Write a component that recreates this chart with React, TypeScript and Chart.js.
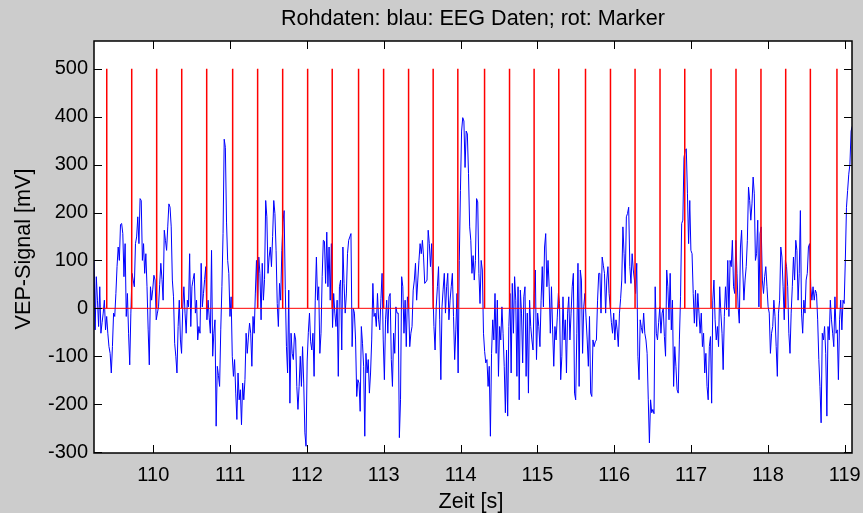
import React, { useEffect, useRef } from "react";
import { Chart, registerables } from "chart.js";

Chart.register(...registerables);

const TITLE = "Rohdaten: blau: EEG Daten; rot: Marker";
const X_LABEL = "Zeit [s]";
const Y_LABEL = "VEP-Signal [mV]";

const X_MIN = 109.228;
const X_MAX = 119.095;
const Y_MIN = -302;
const Y_MAX = 558;

const X_TICKS = [110, 111, 112, 113, 114, 115, 116, 117, 118, 119];
const Y_TICKS = [-300, -200, -100, 0, 100, 200, 300, 400, 500];

const MARKER_TIMES = [
  109.394, 109.719, 110.044, 110.37, 110.695, 111.033, 111.358, 111.684, 112.009, 112.329,
  112.672, 112.998, 113.323, 113.643, 113.964, 114.312, 114.637, 114.957, 115.278, 115.626,
  115.951, 116.271, 116.596, 116.918, 117.26, 117.585, 117.91, 118.232, 118.553, 118.899,
];
const MARKER_HEIGHT = 500;

// EEG samples, equally spaced in time starting at EEG_T0
const EEG_T0 = 109.228;
const EEG_DT = 0.015;
const EEG_VALUES = [
  // 109.23 – 111.70 s
  100, -45, 66, 17, -38, 45, -52, -30, -10, 17,
  -45, -17, -52, -80, -94, -135, -80, -10, -17, 31,
  87, 128, 100, 175, 177, 156, 66, 135, -17, 31,
  -52, -118, -10, 73, 59, 45, 135, 149, 191, 135,
  229, 225, 100, 135, 73, 114, 45, -45, -118, 45,
  17, 40, 69, 59, -24, -10, 3, 50, 94, 60,
  17, 163, 142, 121, 170, 218, 211, 170, 59, 24,
  -73, -100, -135, -38, 17, -66, -94, 0, 45, -10,
  -52, 17, 3, 114, -38, 45, 60, 73, -10, 17,
  -66, -38, -52, 94, 3, 31, 60, 87, -24, 17,
  -20, -52, 121, -100, -52, -24, -246, -121, -140, -163,
  -45, 45, 156, 353, 336, 180, 100, 73, -17, 24,
  -100, -142, -107, -177, -232, -135, -191, -170, -243, -156,
  -191, -149, -52, -94, -60, -31, -52, -121, -17, -52,
  30, 100, 3, 107, 73, -24, 94, 17, 60, 225,
  191, 73, 107, 128, 87, 150, 225, 198, 121, 10,
  -38, 52, 17, 121, 180,
  // 111.70 – 114.17 s
  204, 40, -80, -135, 38, -198, -52, -94, -107, -52,
  -66, -163, -211, -163, -100, -163, -80, -156, -260, -288,
  -110, -50, -10, -70, -87, -52, -142, 17, 107, 17,
  45, -94, -52, 66, 142, 140, 52, 159, 45, 128,
  17, 135, -40, 31, -10, -38, 17, -142, 45, 59,
  -87, 128, 52, -10, 30, 114, 142, 149, 156, -80,
  0, -10, -66, -184, -149, -156, -215, -38, -73, -121,
  -267, -94, -135, -107, -177, -135, -66, 52, -17, -10,
  -38, 31, -24, -45, 20, 73, -66, -149, -24, 17,
  -52, 24, 31, -107, -163, -52, -94, 3, -10, -10,
  -270, -191, 66, 45, -52, 17, -80, 24, 10, -80,
  -52, -38, 38, 59, 94, 17, 59, 100, 135, 114,
  142, 107, 52, 55, 59, 163, 135, 87, 135, 45,
  -38, -87, 3, 45, 87, -24, -149, 3, 40, 73,
  -10, 45, 73, -24, 17, 45, 73, -17, -107, -45,
  31, -135, 100, 246, 370, 398, 391, 294, 370, 364,
  281, 170, 142, 73, 110,
  // 114.18 – 116.64 s
  59, 100, 229, 222, 73, 10, 100, 80, -52, -90,
  -114, -107, -163, -121, -267, -94, -24, -66, 31, -94,
  17, -142, -38, -66, 3, -52, -121, -218, -87, -225,
  -38, 31, -135, 52, -52, 66, 17, -142, 45, -191,
  38, -10, -114, 24, 45, -142, -10, -177, 17, -38,
  -66, -87, 31, 80, -107, -10, -38, -80, 17, 87,
  3, 128, 156, 45, 100, 45, -52, 45, -45, -121,
  -38, -66, -20, 31, 10, -149, -100, 24, -66, -24,
  -135, -10, 24, -66, -10, 45, 73, -177, -191, -52,
  94, -163, 80, 59, -94, 3, 31, -20, -66, -121,
  -17, -177, -184, -66, -80, -70, -66, 17, 73, 73,
  -10, 107, 90, 73, -10, 59, 87, 31, 3, -30,
  -52, -10, -66, -24, -45, -80, -10, 20, 59, 170,
  114, 52, 191, 198, 211, 87, 52, 114, 80, 59,
  31, 94, -100, -149, -24, -40, -52, -10, -52, -66,
  -94, -191, -281, -191, -218, -211, -220, 45, -52, -66,
  -30, 3, -52, -10, 0,
  // 116.65 – 119.10 s
  -59, -100, 80, 45, -24, 73, -45, 17, -163, -80,
  -121, -170, -177, -66, 24, 177, 184, 315, 329, 333,
  239, 135, 225, 121, 114, 31, -31, 38, -38, 31,
  -10, -52, -10, -80, -52, -135, -94, -163, -191, -80,
  -59, -198, 17, 59, -24, -66, -38, -80, 45, -10,
  -52, -128, -17, 45, -3, 100, -17, 100, 87, 142,
  45, 31, 142, 73, 3, -31, 128, 163, 80, 17,
  59, 87, 142, 253, 225, 184, 218, 274, 239, 100,
  114, 184, 3, 156, 170, 59, 31, 66, 87, 45,
  3, -10, -94, -52, -38, 17, -17, -80, -142, -10,
  17, 128, 107, 45, -24, 100, 87, 45, -52, -94,
  -10, 45, 107, 59, 142, 121, 17, 73, 204, -10,
  -52, 17, -10, 59, 73, 128, 135, 45, 17, 45,
  17, 38, 31, -24, -107, -163, -239, -52, -66, -38,
  -94, -225, -38, -66, 17, -24, -52, -80, 24, -52,
  -45, -149, -24, 17, -45, 17, 10, 100, 211, 246,
  280, 301, 370, 380,
];

const FONT_FAMILY = '"Liberation Sans", Arial, Helvetica, sans-serif';

const framePlugin = {
  id: "matlabFrame",
  beforeDraw(chart: any) {
    const { ctx, chartArea: a, width, height } = chart;
    ctx.save();
    ctx.fillStyle = "#cccccc";
    ctx.fillRect(0, 0, width, height);
    ctx.fillStyle = "#ffffff";
    ctx.fillRect(a.left, a.top, a.right - a.left, a.bottom - a.top);
    ctx.restore();
  },
  afterDraw(chart: any) {
    const { ctx, chartArea: a, scales } = chart;
    const L = 8;
    ctx.save();
    ctx.strokeStyle = "#000000";
    ctx.lineWidth = 1;
    ctx.beginPath();
    for (const v of X_TICKS) {
      const x = Math.round(scales.x.getPixelForValue(v)) + 0.5;
      ctx.moveTo(x, a.bottom);
      ctx.lineTo(x, a.bottom - L);
      ctx.moveTo(x, a.top);
      ctx.lineTo(x, a.top + L);
    }
    for (const v of Y_TICKS) {
      const y = Math.round(scales.y.getPixelForValue(v)) + 0.5;
      ctx.moveTo(a.left, y);
      ctx.lineTo(a.left + L, y);
      ctx.moveTo(a.right, y);
      ctx.lineTo(a.right - L, y);
    }
    ctx.stroke();
    ctx.lineWidth = 1.5;
    ctx.strokeRect(a.left, a.top, a.right - a.left, a.bottom - a.top);

    ctx.fillStyle = "#000000";
    ctx.font = "21.6px " + FONT_FAMILY;
    ctx.textAlign = "center";
    ctx.textBaseline = "alphabetic";
    const cx = (a.left + a.right) / 2;
    ctx.fillText(TITLE, cx, 25);
    ctx.fillText(X_LABEL, cx - 2, 508);
    ctx.translate(30, 249);
    ctx.rotate(-Math.PI / 2);
    ctx.fillText(Y_LABEL, 0, 0);
    ctx.restore();
  },
};

export default function App() {
  const canvasRef = useRef<HTMLCanvasElement | null>(null);

  useEffect(() => {
    const canvas = canvasRef.current;
    if (!canvas) return;

    const eegData = EEG_VALUES.map((v, i) => ({ x: EEG_T0 + i * EEG_DT, y: v }));
    const markerData: any[] = [];
    for (const t of MARKER_TIMES) {
      markerData.push({ x: t, y: 0 });
      markerData.push({ x: t, y: MARKER_HEIGHT });
      markerData.push({ x: t, y: null });
    }
    const zeroLine = [
      { x: X_MIN, y: 0 },
      { x: X_MAX, y: 0 },
    ];

    const chart = new Chart(canvas, {
      type: "line",
      data: {
        datasets: [
          {
            label: "Marker",
            data: markerData,
            borderColor: "#ff0000",
            borderWidth: 1.5,
            pointRadius: 0,
            spanGaps: false,
            tension: 0,
          },
          {
            label: "Null",
            data: zeroLine,
            borderColor: "#ff0000",
            borderWidth: 1,
            pointRadius: 0,
            tension: 0,
          },
          {
            label: "EEG",
            data: eegData,
            borderColor: "#0000ff",
            borderWidth: 1,
            pointRadius: 0,
            tension: 0,
          },
        ],
      },
      options: {
        animation: false,
        responsive: false,
        devicePixelRatio: 1,
        layout: { padding: { top: 41, right: 11, left: 0, bottom: 0 } },
        plugins: {
          legend: { display: false },
          title: { display: false },
          tooltip: { enabled: false },
        },
        scales: {
          x: {
            type: "linear",
            position: "bottom",
            min: X_MIN,
            max: X_MAX,
            afterBuildTicks: (s: any) => {
              s.ticks = X_TICKS.map((value) => ({ value }));
            },
            afterFit: (s: any) => {
              s.height = 60;
              s.paddingLeft = 0;
              s.paddingRight = 0;
            },
            grid: { display: false, drawTicks: false },
            border: { display: false },
            ticks: {
              color: "#000000",
              font: { family: FONT_FAMILY, size: 20 },
              padding: 10,
              maxRotation: 0,
              autoSkip: false,
              callback: (v: any) => String(v),
            },
          },
          y: {
            type: "linear",
            min: Y_MIN,
            max: Y_MAX,
            afterBuildTicks: (s: any) => {
              s.ticks = Y_TICKS.map((value) => ({ value }));
            },
            afterFit: (s: any) => {
              s.width = 94;
              s.paddingTop = 0;
              s.paddingBottom = 0;
            },
            grid: { display: false, drawTicks: false },
            border: { display: false },
            ticks: {
              color: "#000000",
              font: { family: FONT_FAMILY, size: 20 },
              padding: 6,
              autoSkip: false,
              callback: (v: any) => String(v),
            },
          },
        },
      },
      plugins: [framePlugin],
    });

    return () => {
      chart.destroy();
    };
  }, []);

  return (
    <div
      style={{
        position: "fixed",
        left: 0,
        top: 0,
        width: 863,
        height: 513,
        background: "#cccccc",
      }}
    >
      <canvas ref={canvasRef} width={863} height={513} style={{ display: "block" }} />
    </div>
  );
}
